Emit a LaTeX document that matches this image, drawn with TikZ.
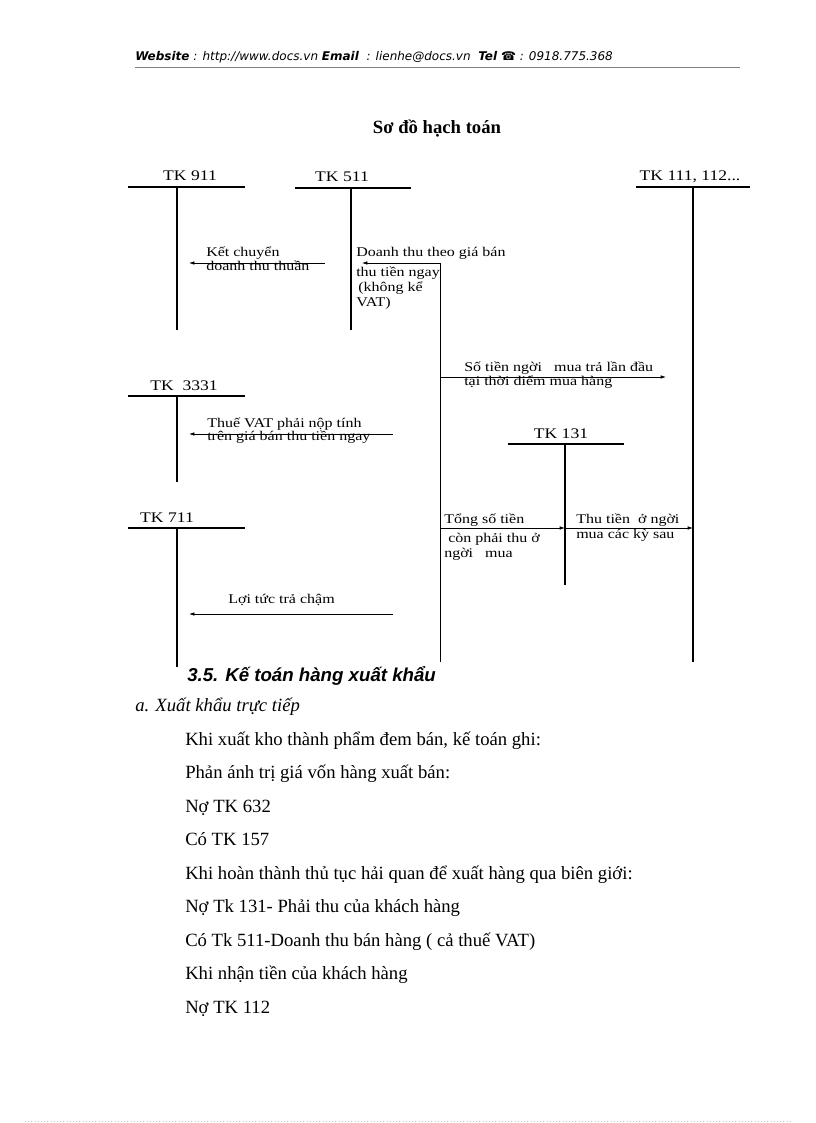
\documentclass[tikz,border=0pt]{standalone}
\usepackage{fontspec}
\setmainfont{Liberation Serif}
\newfontfamily\tkfont[FakeStretch=1.2]{Liberation Serif}
\newfontfamily\hdfont{DejaVu Sans}
\newfontfamily\mucfont{Liberation Sans}
\usetikzlibrary{arrows.meta, calc}
\definecolor{grisLine}{HTML}{808080}
\newcommand{\sattang}{\lineskiplimit=-20pt\relax}

\begin{document}
\begin{tikzpicture}[x=0.75pt, y=-0.75pt, >=Latex,
        tk/.style={font=\tkfont\fontsize{11}{13}\selectfont, inner sep=0pt, anchor=base},
        lbl/.style={font={\tkfont\fontsize{10}{#1}\selectfont\sattang},
            inner sep=0pt, anchor=base west, align=left},
        lbl/.default=9.75,
        tline/.style={line width=0.8pt},
        arr/.style={-{Latex[length=4pt,width=2.6pt]}, line width=0.5pt},
        body/.style={font=\fontsize{14}{16}\selectfont, inner sep=0pt, anchor=base west}]
    \useasboundingbox (0,0) rectangle (816,1123);
    % header
    \node[inner sep=0pt, anchor=base west, font=\hdfont\itshape\fontsize{9}{11}\selectfont] (web) at (135,61)
        {\textbf{Website} : http://www.docs.vn \textbf{Email}~ : lienhe@docs.vn~ \textbf{Tel} ☎ : 0918.775.368};
    \draw[grisLine, line width=0.5pt] (135,67) -- (740,67);
    \node[inner sep=0pt, anchor=base, font=\bfseries\fontsize{14}{16}\selectfont] (title) at (437,134) {Sơ đồ hạch toán};
    % tai khoan chu T
    \foreach \n/\vx/\y/\lx/\rx/\by/\tx/\t in {a911/177/187/128/245/330/190/{TK 911},
            a511/351/188/295/411/330/342/{TK 511}, a111/693/187/636/750/662/690/{TK 111,\ 112...},
            a3331/177/396/128/245/482/184/{TK\ \ 3331}, a131/565/444/508/624/585/561/{TK 131},
            a711/177/528/128/245/667/167/{TK 711}} {
        \draw[tline] (\lx,\y) -- (\rx,\y);
        \draw[tline] (\vx,\y) coordinate (\n) -- (\vx,\by) coordinate (\n-b);
        \node[tk] (\n-lbl) at (\tx,\y-6) {\t};
    }
    % but toan
    \coordinate (kcA) at (325,263);  \coordinate (kcB) at (189,263);
    \coordinate (dtA) at (440,662);  \coordinate (dtB) at (440,263);  \coordinate (dtC) at (362,263);
    \coordinate (stA) at (440,377);  \coordinate (stB) at (666,377);
    \coordinate (vatA) at (393,434); \coordinate (vatB) at (189,434);
    \coordinate (tgA) at (440,528);  \coordinate (tgB) at (a131 |- tgA);
    \coordinate (ttA) at (566,528);  \coordinate (ttB) at (a111 |- ttA);
    \coordinate (ltA) at (393,614);  \coordinate (ltB) at (189,614);
    \draw[arr] (kcA) -- (kcB);
    \draw[arr] (dtA) -- (dtB) -- (dtC);
    \draw[arr] (stA) -- (stB);
    \draw[arr] (vatA) -- (vatB);
    \draw[arr] (tgA) -- (tgB);
    \draw[arr] (ttA) -- (ttB);
    \draw[arr] (ltA) -- (ltB);
    % nhan (neo o dong cuoi)
    \node[lbl] (kc) at (206,270) {Kết chuyển\\doanh thu thuần};
    \node[lbl] (dt1) at (356,257) {Doanh thu theo giá bán};
    \node[lbl=11] (dt2) at (356,306) {thu tiền ngay\\\hspace{1.5pt}(không kể\\VAT)};
    \node[lbl=10.5] (st) at (464,385) {Số tiền ngời\ \ \ mua trả lần đầu\\tại thời điểm mua hàng};
    \node[lbl] (vat) at (207,440) {Thuế VAT phải nộp tính\\trên giá bán thu tiền ngay};
    \node[lbl] (tg1) at (444,523) {Tổng số tiền};
    \node[lbl=11.25] (tg2) at (444,557) {\hspace{3pt}còn phải thu ở\\ngời\ \ \ mua};
    \node[lbl=11.25] (tt) at (576,538) {Thu tiền\ \ ở ngời\\mua các kỳ sau};
    \node[lbl] (lt) at (228,603) {Lợi tức trả chậm};
    % van ban
    \node[inner sep=0pt, anchor=base west, font=\mucfont\bfseries\itshape\fontsize{14}{16}\selectfont] (muc) at (187,681)
        {3.5. Kế toán hàng xuất khẩu};
    \node[inner sep=0pt, anchor=base west, font=\itshape\fontsize{14}{16}\selectfont] (muca) at (135,711)
        {a. Xuất khẩu trực tiếp};
    \foreach \y/\t [count=\i] in {745/{Khi xuất kho thành phẩm đem bán, kế toán ghi:},
            778.5/{Phản ánh trị giá vốn hàng xuất bán:}, 812/{Nợ TK 632}, 845.5/{Có TK 157},
            879/{Khi hoàn thành thủ tục hải quan để xuất hàng qua biên giới:},
            912.5/{Nợ Tk 131- Phải thu của khách hàng}, 946/{Có Tk 511-Doanh thu bán hàng ( cả thuế VAT)},
            979.5/{Khi nhận tiền của khách hàng}, 1013/{Nợ TK 112}}
        \node[body] (ln\i) at (185,\y) {\t};
    \draw[gray!45, dotted, line width=0.4pt] (25,1121) -- (790,1121);
\end{tikzpicture}
\end{document}
